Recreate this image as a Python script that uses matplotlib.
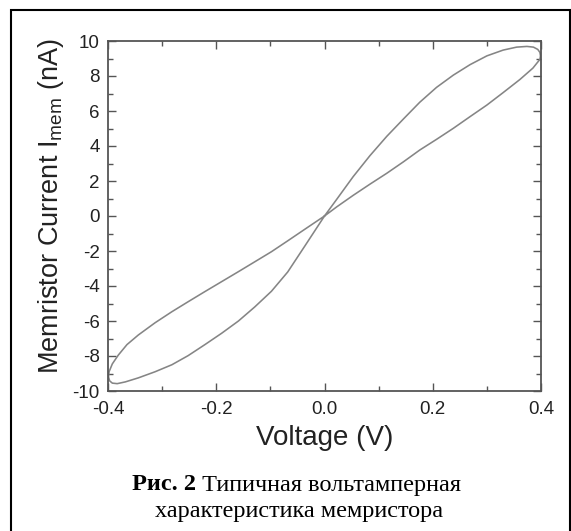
import matplotlib
matplotlib.use("Agg")
import matplotlib.pyplot as plt
from matplotlib.ticker import MultipleLocator
from matplotlib.patches import Rectangle

# Data (pinched hysteresis loop)
v_up_pos = [0.0, 0.0225, 0.053, 0.084, 0.115, 0.146, 0.176, 0.207, 0.238, 0.269, 0.30, 0.330, 0.355, 0.374, 0.386, 0.394, 0.398, 0.399]
i_up_pos = [0.0, 0.95, 2.25, 3.45, 4.55, 5.55, 6.50, 7.35, 8.05, 8.65, 9.15, 9.48, 9.65, 9.69, 9.65, 9.52, 9.35, 9.15]

v_lin_pos = [0.398, 0.385, 0.361, 0.330, 0.30, 0.269, 0.238, 0.207, 0.176, 0.146, 0.115, 0.084, 0.053, 0.0225, 0.0]
i_lin_pos = [8.95, 8.45, 7.80, 7.05, 6.34, 5.68, 5.01, 4.38, 3.77, 3.10, 2.44, 1.82, 1.18, 0.52, 0.0]

v_lin_neg = [0.0, -0.036, -0.068, -0.098, -0.129, -0.159, -0.190, -0.221, -0.252, -0.282, -0.313, -0.344, -0.365, -0.381, -0.392, -0.398]
i_lin_neg = [0.0, -0.75, -1.42, -2.04, -2.62, -3.18, -3.75, -4.32, -4.90, -5.47, -6.10, -6.80, -7.35, -7.95, -8.45, -8.90]

v_low_neg = [-0.398, -0.399, -0.397, -0.392, -0.383, -0.368, -0.344, -0.313, -0.282, -0.252, -0.221, -0.190, -0.159, -0.129, -0.098, -0.068, -0.036, 0.0]
i_low_neg = [-8.90, -9.20, -9.42, -9.55, -9.58, -9.48, -9.25, -8.90, -8.50, -7.98, -7.35, -6.70, -6.00, -5.20, -4.30, -3.20, -1.70, 0.0]

x_ticks = [-0.4, -0.2, 0.0, 0.2, 0.4]
y_ticks = [-10, -8, -6, -4, -2, 0, 2, 4, 6, 8, 10]

x_label = "Voltage (V)"
y_label = r"Memristor Current I$_{\mathregular{mem}}$ (nA)"
caption_bold = "Рис. 2"
caption_rest = " Типичная вольтамперная"
caption_line2 = "характеристика мемристора"

W, H = 571, 531
fig = plt.figure(figsize=(W / 100, H / 100), dpi=100)
fig.patch.set_facecolor("white")

ax = fig.add_axes([108 / W, 1 - 391 / H, (541 - 108) / W, (391 - 41) / H])

V = v_up_pos + v_lin_pos + v_lin_neg + v_low_neg
I = i_up_pos + i_lin_pos + i_lin_neg + i_low_neg
ax.plot(V, I, color="#858585", lw=1.15, solid_joinstyle="round")

ax.set_xlim(-0.4, 0.4)
ax.set_ylim(-10, 10)
ax.set_xticks(x_ticks)
ax.set_yticks(y_ticks)
ax.set_xticklabels([f"{t:.1f}" for t in x_ticks])
ax.set_yticklabels([str(t) for t in y_ticks])
ax.xaxis.set_minor_locator(MultipleLocator(0.1))
ax.yaxis.set_minor_locator(MultipleLocator(1))

sans = "Liberation Sans"
ax.tick_params(which="both", direction="in", top=True, right=True, color="#555555", width=1.0)
ax.tick_params(which="major", length=6)
ax.tick_params(which="minor", length=3.5)
ax.tick_params(axis="x", which="major", labelsize=13.5, pad=7)
ax.tick_params(axis="y", which="major", labelsize=13.5, pad=6)
for lab in ax.get_xticklabels() + ax.get_yticklabels():
    lab.set_fontfamily(sans)
    lab.set_color("#222222")
for s in ax.spines.values():
    s.set_color("#555555")
    s.set_linewidth(1.3)

ax.set_xlabel(x_label, fontsize=20, fontfamily=sans, color="#222222", labelpad=5)
ax.set_ylabel(y_label, fontsize=19.5, fontfamily=sans, color="#222222")
ax.yaxis.set_label_coords(-0.097, 0.529)

# Frame around the figure
fig.patches.append(Rectangle((11 / W, -0.05), (570 - 11) / W, 1 - 9.5 / H + 0.05,
                             transform=fig.transFigure, fill=False, edgecolor="black", lw=1.5))

# Caption
serif = "Liberation Serif"
cs = 17.5
t1 = fig.text(0, 1 - 485 / H, caption_bold, fontsize=cs, fontfamily=serif, fontweight="bold", va="center", ha="left")
t2 = fig.text(0, 1 - 485 / H, caption_rest, fontsize=cs, fontfamily=serif, va="center", ha="left")
fig.text(299 / W, 1 - 511 / H, caption_line2, fontsize=cs, fontfamily=serif, va="center", ha="center")
fig.canvas.draw()
r = fig.canvas.get_renderer()
w1 = t1.get_window_extent(r).width
w2 = t2.get_window_extent(r).width
x0 = 297 - (w1 + w2) / 2
t1.set_x(x0 / W)
t2.set_x((x0 + w1) / W)

fig.savefig("out.png", dpi=100)
